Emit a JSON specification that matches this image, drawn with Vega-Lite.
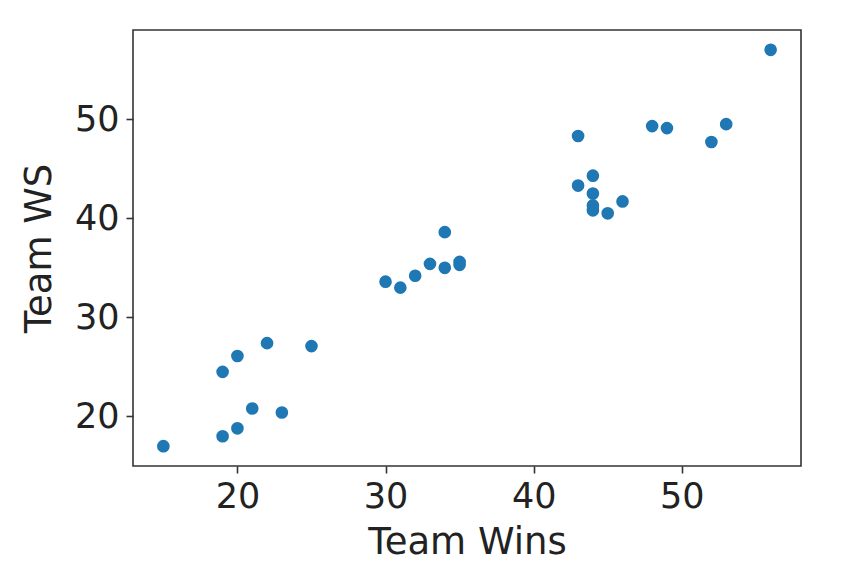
{
  "$schema": "https://vega.github.io/schema/vega-lite/v6.json",
  "width": 668,
  "height": 436,
  "autosize": {"type": "none"},
  "padding": {"left": 133, "top": 30, "right": 57, "bottom": 110},
  "background": "white",
  "data": {
    "values": [
      {"wins": 15, "ws": 17.0},
      {"wins": 19, "ws": 24.5},
      {"wins": 19, "ws": 18.0},
      {"wins": 20, "ws": 26.1},
      {"wins": 20, "ws": 18.8},
      {"wins": 21, "ws": 20.8},
      {"wins": 22, "ws": 27.4},
      {"wins": 23, "ws": 20.4},
      {"wins": 25, "ws": 27.1},
      {"wins": 30, "ws": 33.6},
      {"wins": 31, "ws": 33.0},
      {"wins": 32, "ws": 34.2},
      {"wins": 33, "ws": 35.4},
      {"wins": 34, "ws": 38.6},
      {"wins": 34, "ws": 35.0},
      {"wins": 35, "ws": 35.3},
      {"wins": 35, "ws": 35.6},
      {"wins": 43, "ws": 48.3},
      {"wins": 43, "ws": 43.3},
      {"wins": 44, "ws": 44.3},
      {"wins": 44, "ws": 42.5},
      {"wins": 44, "ws": 41.3},
      {"wins": 44, "ws": 40.8},
      {"wins": 45, "ws": 40.5},
      {"wins": 46, "ws": 41.7},
      {"wins": 48, "ws": 49.3},
      {"wins": 49, "ws": 49.1},
      {"wins": 52, "ws": 47.7},
      {"wins": 53, "ws": 49.5},
      {"wins": 56, "ws": 57.0}
    ]
  },
  "mark": {"type": "point", "filled": true, "color": "#1f77b4", "opacity": 1, "size": 160},
  "encoding": {
    "x": {
      "field": "wins",
      "type": "quantitative",
      "title": "Team Wins",
      "scale": {"domain": [12.95, 58.05], "nice": false, "zero": false},
      "axis": {"values": [20, 30, 40, 50], "labelPadding": 6, "titlePadding": 10}
    },
    "y": {
      "field": "ws",
      "type": "quantitative",
      "title": "Team WS",
      "scale": {"domain": [15, 59], "nice": false, "zero": false},
      "axis": {"values": [20, 30, 40, 50], "labelPadding": 7, "titlePadding": 16}
    }
  },
  "config": {
    "view": {"stroke": "#333333", "strokeWidth": 1.6},
    "axis": {
      "grid": false,
      "domain": false,
      "ticks": true,
      "tickColor": "#333333",
      "tickWidth": 1.6,
      "tickSize": 7,
      "labelFont": "DejaVu Sans",
      "labelFontSize": 35,
      "labelColor": "#222222",
      "titleFont": "DejaVu Sans",
      "titleFontSize": 37,
      "titleFontWeight": "normal",
      "titleColor": "#222222"
    }
  }
}
